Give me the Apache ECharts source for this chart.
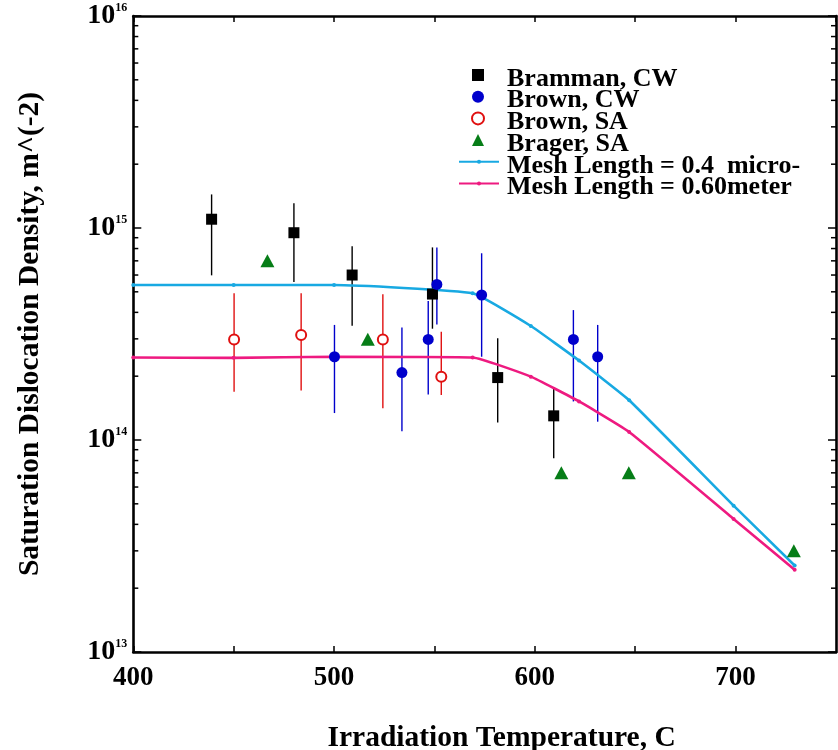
<!DOCTYPE html>
<html>
<head>
<meta charset="utf-8">
<script src="https://cdn.jsdelivr.net/npm/echarts@6/dist/echarts.min.js"></script>
<style>html,body{margin:0;padding:0;background:#fff}#c{width:838px;height:750px}</style>
</head>
<body>
<div id="c"></div>
<script>
// ---- data ----
const xTicks = [400, 500, 600, 700];
const yTickExps = [13, 14, 15, 16];

const brammanT  = [439, 480, 509, 549, 581.5, 609.4];
const brammanD  = [1.10e15, 9.5e14, 6.0e14, 4.88e14, 1.97e14, 1.30e14];
const brammanLo = [5.98e14, 5.56e14, 3.46e14, 3.35e14, 1.21e14, 8.2e13];
const brammanHi = [1.44e15, 1.31e15, 8.2e14, 8.1e14, 3.02e14, 1.77e14];

const brownCwT  = [500.2, 533.8, 546.9, 551.2, 573.5, 619.2, 631.3];
const brownCwD  = [2.47e14, 2.08e14, 2.98e14, 5.42e14, 4.83e14, 2.98e14, 2.47e14];
const brownCwLo = [1.34e14, 1.10e14, 1.64e14, 3.51e14, 2.47e14, 1.52e14, 1.22e14];
const brownCwHi = [3.49e14, 3.39e14, 4.53e14, 8.1e14, 7.6e14, 4.10e14, 3.49e14];

const brownSaT  = [450.2, 483.6, 524.3, 553.4];
const brownSaD  = [2.98e14, 3.13e14, 2.98e14, 1.99e14];
const brownSaLo = [1.69e14, 1.71e14, 1.41e14, 1.63e14];
const brownSaHi = [4.92e14, 4.92e14, 4.87e14, 3.24e14];

const bragerT = [466.8, 516.8, 613.2, 646.8, 729];
const bragerD = [7.0e14, 2.99e14, 7.0e13, 7.0e13, 3.0e13];

const meshT   = [400, 450, 500, 569, 598, 622, 647, 699, 729.4];
const mesh04  = [5.38e14, 5.38e14, 5.38e14, 4.92e14, 3.45e14, 2.37e14, 1.54e14, 4.9e13, 2.56e13];
const mesh060 = [2.45e14, 2.44e14, 2.47e14, 2.45e14, 1.99e14, 1.52e14, 1.09e14, 4.24e13, 2.44e13];

const names = ['Bramman, CW', 'Brown, CW', 'Brown, SA', 'Brager, SA',
               'Mesh Length = 0.4  micro-', 'Mesh Length = 0.60meter'];

const X_MIN = 400, X_MAX = 750, Y_MIN = 1e13, Y_MAX = 1e16;

// ---- helpers ----
const FONT = 'Liberation Serif';
const zip = (a, b) => a.map((v, i) => [v, b[i]]);
const zip3 = (a, b, c) => a.map((v, i) => [v, b[i], c[i]]);

function errSeries(t, lo, hi, color) {
  return {
    type: 'custom', xAxisIndex: 0, yAxisIndex: 0, z: 2,
    silent: true,
    data: zip3(t, lo, hi),
    encode: { x: 0, y: [1, 2] },
    renderItem: function (params, api) {
      const p1 = api.coord([api.value(0), api.value(1)]);
      const p2 = api.coord([api.value(0), api.value(2)]);
      return { type: 'line', shape: { x1: p1[0], y1: p1[1], x2: p2[0], y2: p2[1] },
               style: { stroke: color, lineWidth: 1.4 } };
    }
  };
}

// minor log ticks (2..9 x 10^k) drawn on left and right edges
const minorVals = [];
for (let e = 13; e < 16; e++) for (let m = 2; m <= 9; m++) minorVals.push(m * Math.pow(10, e));

const minorTickSeries = {
  type: 'custom', xAxisIndex: 0, yAxisIndex: 0, z: 10, silent: true, clip: false,
  data: minorVals.map(v => [X_MIN, v]),
  encode: { x: 0, y: 1 },
  renderItem: function (params, api) {
    const pl = api.coord([X_MIN, api.value(1)]);
    const pr = api.coord([X_MAX, api.value(1)]);
    const L = 5;
    return { type: 'group', children: [
      { type: 'line', shape: { x1: pl[0], y1: pl[1], x2: pl[0] + L, y2: pl[1] }, style: { stroke: '#000', lineWidth: 1.5 } },
      { type: 'line', shape: { x1: pr[0], y1: pr[1], x2: pr[0] - L, y2: pr[1] }, style: { stroke: '#000', lineWidth: 1.5 } }
    ]};
  }
};

const chart = echarts.init(document.getElementById('c'), null, { renderer: 'canvas' });

const xCommon = {
  type: 'value', min: X_MIN, max: X_MAX, interval: 50,
  axisLine: { show: true, onZero: false, lineStyle: { color: '#000', width: 2.6 } },
  axisTick: { show: true, inside: true, length: 6, lineStyle: { color: '#000', width: 1.5 } },
  splitLine: { show: false }
};
const yCommon = {
  type: 'log', logBase: 10, min: Y_MIN, max: Y_MAX, splitNumber: 3,
  axisLine: { show: true, onZero: false, lineStyle: { color: '#000', width: 2.6 } },
  axisTick: { show: true, inside: true, length: 8, lineStyle: { color: '#000', width: 1.5 } },
  splitLine: { show: false }
};

const LEG_FS = 26, LEG_ROW = 21.7, LEG_PADTOP = 8, LEG_TOP = 58;
const legText = (padLeft) => ({
  fontFamily: FONT, fontWeight: 'bold', fontSize: LEG_FS, color: '#000',
  rich: { t: { fontFamily: FONT, fontWeight: 'bold', fontSize: LEG_FS, color: '#000',
               lineHeight: LEG_FS, padding: [LEG_PADTOP, 0, 0, padLeft] } }
});
const legFmt = name => '{t|' + name + '}';

const option = {
  backgroundColor: '#fff',
  animation: false,
  grid: { left: 133.3, right: 2, top: 16, bottom: 98, containLabel: false, outerBoundsMode: 'none' },
  xAxis: [
    Object.assign({}, xCommon, {
      position: 'bottom',
      name: 'Irradiation Temperature, C', nameLocation: 'middle', nameGap: 71,
      nameTextStyle: { fontFamily: FONT, fontWeight: 'bold', fontSize: 29.5, color: '#000',
                       padding: [0, 0, 0, 34] },
      axisLabel: {
        margin: 13, fontFamily: FONT, fontWeight: 'bold', fontSize: 27, color: '#000',
        showMaxLabel: false,
        formatter: v => (xTicks.indexOf(v) >= 0 ? String(v) : '')
      }
    }),
    Object.assign({}, xCommon, { position: 'top', axisLabel: { show: false } })
  ],
  yAxis: [
    Object.assign({}, yCommon, {
      position: 'left',
      name: 'Saturation Dislocation Density, m^(-2)', nameLocation: 'middle', nameGap: 88,
      nameTextStyle: { fontFamily: FONT, fontWeight: 'bold', fontSize: 29.5, color: '#000' },
      axisLabel: {
        margin: 6, color: '#000',
        formatter: v => {
          const e = Math.round(Math.log10(v));
          return yTickExps.indexOf(e) >= 0 ? '{b|10}{s|' + e + '}' : '';
        },
        rich: {
          b: { fontFamily: FONT, fontWeight: 'bold', fontSize: 28, color: '#000', lineHeight: 28 },
          s: { fontFamily: FONT, fontWeight: 'bold', fontSize: 12, color: '#000', verticalAlign: 'top', lineHeight: 28 }
        }
      }
    }),
    Object.assign({}, yCommon, { position: 'right', axisLabel: { show: false } })
  ],
  legend: [
    {
      orient: 'vertical', left: 471, top: LEG_TOP, padding: 0,
      itemWidth: 12, itemHeight: 12, itemGap: LEG_ROW - LEG_FS - LEG_PADTOP,
      data: names.slice(0, 4), formatter: legFmt,
      textStyle: legText(18)
    },
    {
      orient: 'vertical', left: 458, top: LEG_TOP + 4 * LEG_ROW, padding: 0,
      itemWidth: 40, itemHeight: 5, itemGap: LEG_ROW - LEG_FS - LEG_PADTOP,
      data: names.slice(4), formatter: legFmt,
      textStyle: legText(3)
    }
  ],
  series: [
    errSeries(brammanT, brammanLo, brammanHi, '#000'),
    errSeries(brownCwT, brownCwLo, brownCwHi, '#0000cc'),
    errSeries(brownSaT, brownSaLo, brownSaHi, '#e01010'),
    {
      name: names[4], type: 'line', xAxisIndex: 0, yAxisIndex: 0, z: 3,
      data: zip(meshT, mesh04), smooth: 0.12,
      symbol: 'circle', symbolSize: 4, showSymbol: true,
      lineStyle: { color: '#18a9e2', width: 2.6 }, itemStyle: { color: '#18a9e2' }
    },
    {
      name: names[5], type: 'line', xAxisIndex: 0, yAxisIndex: 0, z: 3,
      data: zip(meshT, mesh060), smooth: 0.12,
      symbol: 'circle', symbolSize: 4, showSymbol: true,
      lineStyle: { color: '#ee1a80', width: 2.6 }, itemStyle: { color: '#ee1a80' }
    },
    {
      name: names[0], type: 'scatter', xAxisIndex: 0, yAxisIndex: 0, z: 5,
      data: zip(brammanT, brammanD), symbol: 'rect', symbolSize: 11,
      itemStyle: { color: '#000', opacity: 1 }
    },
    {
      name: names[1], type: 'scatter', xAxisIndex: 0, yAxisIndex: 0, z: 5,
      data: zip(brownCwT, brownCwD), symbol: 'circle', symbolSize: 11,
      itemStyle: { color: '#0000cc', opacity: 1 }
    },
    {
      name: names[2], type: 'scatter', xAxisIndex: 0, yAxisIndex: 0, z: 5,
      data: zip(brownSaT, brownSaD), symbol: 'emptyCircle', symbolSize: 10,
      itemStyle: { color: '#e01010', borderWidth: 1.3, opacity: 1 }
    },
    {
      name: names[3], type: 'scatter', xAxisIndex: 0, yAxisIndex: 0, z: 5,
      data: zip(bragerT, bragerD), symbol: 'triangle', symbolSize: [14, 13],
      itemStyle: { color: '#067d17', opacity: 1 }
    },
    minorTickSeries
  ]
};
chart.setOption(option);
</script>
</body>
</html>
